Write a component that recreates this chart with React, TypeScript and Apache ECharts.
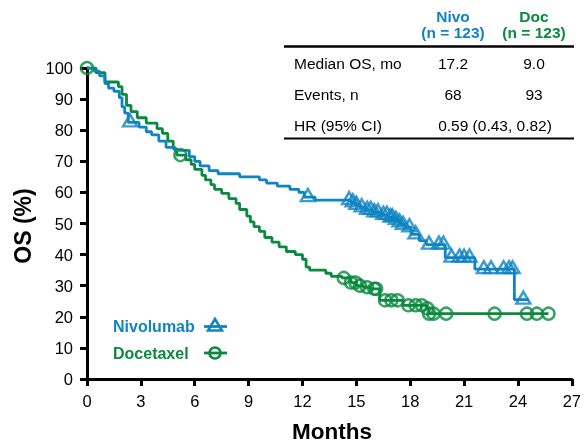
import React, { useEffect, useRef } from "react";
import * as echarts from "echarts";

const BLUE = "#0F84C2";
const GREEN = "#0A8A3E";
const FONT = '"Liberation Sans", Arial, Helvetica, sans-serif';

const xTicks = { min: 0, max: 27, interval: 3 };
const yTicks = { min: 0, max: 100, interval: 10 };

// Kaplan-Meier steps [month, OS %]
const nivoSteps: [number, number][] = [
  [0, 100], [0.4, 99], [0.7, 97.5], [1.0, 95], [1.2, 93.5], [1.5, 92.5], [1.8, 90.5],
  [1.95, 87.5], [2.1, 85.5], [2.3, 82.5], [2.9, 81], [3.3, 79.5], [3.6, 78.5], [4.0, 76.5],
  [4.4, 74.5], [4.9, 73.5], [5.7, 71.5], [6.0, 70], [6.3, 68.5], [6.8, 67], [7.3, 66],
  [8.5, 65], [9.6, 64], [10.0, 63], [10.6, 62], [11.3, 61], [11.8, 60], [12.1, 58.5],
  [12.7, 57.5], [14.7, 56.8], [14.9, 56], [15.2, 55.2], [15.5, 54.4], [15.9, 53.6],
  [16.4, 52.8], [16.8, 52], [17.1, 51.2], [17.35, 50.4], [17.5, 49.6], [17.75, 48.8],
  [18.05, 46.5], [18.5, 44.5], [18.9, 43.2], [19.95, 39], [21.6, 35.3], [23.8, 25.5],
  [24.6, 25.5],
];
const nivoCensor: [number, number][] = [
  [2.4, 82.5], [12.3, 58.5], [14.6, 57.5], [14.8, 56.8], [15.0, 56], [15.3, 55.2],
  [15.6, 54.4], [15.8, 54.4], [16.0, 53.6], [16.2, 53.6], [16.5, 52.8], [16.7, 52.8],
  [16.9, 52], [17.0, 52], [17.2, 51.2], [17.4, 50.4], [17.6, 49.6], [17.95, 48.8],
  [18.3, 46.5], [19.05, 43.2], [19.6, 43.2], [19.85, 43.2], [20.3, 39], [20.75, 39],
  [21.0, 39], [21.3, 39], [22.1, 35.3], [22.5, 35.3], [23.2, 35.3], [23.5, 35.3],
  [23.7, 35.3], [24.3, 25.5],
];
const docSteps: [number, number][] = [
  [0, 100], [0.5, 98.5], [1.0, 95.5], [1.75, 94], [1.95, 91.5], [2.2, 88], [2.45, 86],
  [2.8, 84], [3.3, 82.3], [3.9, 80.5], [4.2, 79], [4.5, 76.5], [4.8, 74], [5.0, 72],
  [5.5, 70.5], [5.8, 69], [6.0, 67.4], [6.4, 65.5], [6.6, 64], [6.9, 62.5], [7.1, 61],
  [7.5, 59.7], [7.9, 58], [8.3, 56.5], [8.5, 54.5], [8.9, 52.4], [9.1, 50.5], [9.3, 49],
  [9.6, 47.5], [9.9, 45.5], [10.3, 44], [10.7, 42.5], [11.1, 41], [11.6, 40], [12.0, 38.5],
  [12.2, 36], [12.4, 35], [13.3, 34], [13.6, 33], [14.2, 32.5], [14.7, 31], [15.0, 30],
  [15.4, 29.5], [15.8, 29], [16.3, 25.3], [17.6, 23.7], [18.9, 22.7], [19.05, 21],
  [25.7, 21],
];
const docCensor: [number, number][] = [
  [0, 100], [5.2, 72], [14.3, 32.5], [14.7, 31], [14.95, 31], [15.2, 30], [15.6, 29.5],
  [16.0, 29], [16.1, 29], [16.6, 25.3], [16.95, 25.3], [17.3, 25.3], [17.9, 23.7],
  [18.3, 23.7], [18.65, 23.7], [18.95, 22.7], [19.05, 21], [19.3, 21], [20.0, 21],
  [22.7, 21], [24.5, 21], [25.05, 21], [25.7, 21],
];

const tableHeaders = [
  { name: "Nivo", n: "(n = 123)", color: BLUE },
  { name: "Doc", n: "(n = 123)", color: GREEN },
];
const tableRows = [
  { label: "Median OS, mo", nivo: "17.2", doc: "9.0" },
  { label: "Events, n", nivo: "68", doc: "93" },
];
const hrRow = { label: "HR (95% CI)", value: "0.59 (0.43, 0.82)" };
const legendItems = [
  { name: "Nivolumab", color: BLUE, symbol: "triangle" },
  { name: "Docetaxel", color: GREEN, symbol: "circle" },
];

function txt(text: string, x: number, y: number, opts: any = {}) {
  const align = opts.align || "left";
  return {
    type: "text",
    x,
    y,
    rotation: opts.rotation || 0,
    silent: true,
    style: {
      text,
      fill: opts.fill || "#000",
      font: `${opts.weight || "normal"} ${opts.size || 15.5}px ${FONT}`,
      align,
      textAlign: align,
      verticalAlign: "middle",
      textVerticalAlign: "middle",
    },
  };
}

export default function App() {
  const ref = useRef<HTMLDivElement>(null);
  useEffect(() => {
    if (!ref.current) return;
    const chart = echarts.init(ref.current, null, { renderer: "svg" });

    const colX = [453, 534];
    const graphics: any[] = [];
    tableHeaders.forEach((h, i) => {
      graphics.push(txt(h.name, colX[i], 16, { align: "center", weight: "bold", fill: h.color }));
      graphics.push(txt(h.n, colX[i], 32, { align: "center", weight: "bold", fill: h.color }));
    });
    graphics.push({ type: "line", silent: true, shape: { x1: 284, y1: 46.5, x2: 574, y2: 46.5 }, style: { stroke: "#000", lineWidth: 2.5 } });
    tableRows.forEach((r, i) => {
      const y = 63 + i * 31;
      graphics.push(txt(r.label, 294, y));
      graphics.push(txt(r.nivo, colX[0], y, { align: "center" }));
      graphics.push(txt(r.doc, colX[1], y, { align: "center" }));
    });
    graphics.push(txt(hrRow.label, 294, 125));
    graphics.push(txt(hrRow.value, 495, 125, { align: "center" }));
    graphics.push({ type: "line", silent: true, shape: { x1: 284, y1: 138.5, x2: 574, y2: 138.5 }, style: { stroke: "#000", lineWidth: 1.8 } });

    legendItems.forEach((l, i) => {
      const y = 326.5 + i * 26.5;
      graphics.push(txt(l.name, 113, y, { weight: "bold", size: 16, fill: l.color }));
      graphics.push({ type: "line", silent: true, shape: { x1: 204, y1: y, x2: 227, y2: y }, style: { stroke: l.color, lineWidth: 2.8 } });
      if (l.symbol === "triangle") {
        graphics.push({ type: "polygon", silent: true, shape: { points: [[215, y - 7.5], [208, y + 4], [222, y + 4]] }, style: { stroke: l.color, fill: "none", lineWidth: 2.5 } });
      } else {
        graphics.push({ type: "circle", silent: true, shape: { cx: 215, cy: y, r: 5.5 }, style: { stroke: l.color, fill: "none", lineWidth: 2.5 } });
      }
    });
    graphics.push(txt("OS (%)", 23, 226, { align: "center", weight: "bold", size: 23, rotation: Math.PI / 2 }));
    graphics.push(txt("Months", 332, 431, { align: "center", weight: "bold", size: 22.5 }));

    const axisCommon = {
      type: "value" as const,
      axisLine: { show: true, lineStyle: { color: "#000", width: 3 } },
      axisTick: { show: true, inside: false, length: 7, lineStyle: { color: "#000", width: 3 } },
      splitLine: { show: false },
      axisLabel: { color: "#000", fontSize: 16.5, fontFamily: FONT },
    };

    chart.setOption({
      animation: false,
      grid: { left: 87, right: 8, top: 68, bottom: 63, containLabel: false },
      xAxis: { ...axisCommon, ...xTicks, axisLabel: { ...axisCommon.axisLabel, margin: 13 } },
      yAxis: { ...axisCommon, ...yTicks, axisLabel: { ...axisCommon.axisLabel, margin: 14 } },
      series: [
        {
          type: "line", name: "Docetaxel", data: docSteps, step: "end", showSymbol: false, silent: true,
          lineStyle: { color: GREEN, width: 2.8 }, z: 2,
        },
        {
          type: "line", name: "Nivolumab", data: nivoSteps, step: "end", showSymbol: false, silent: true,
          lineStyle: { color: BLUE, width: 2.8 }, z: 3,
        },
        {
          type: "scatter", data: docCensor, symbol: "circle", symbolSize: 12, silent: true, z: 4,
          itemStyle: { color: "rgba(255,255,255,0)", borderColor: GREEN, borderWidth: 2.5 },
        },
        {
          type: "scatter", data: nivoCensor, symbol: "triangle", symbolSize: [14, 12], symbolOffset: [0, -2], silent: true, z: 5,
          itemStyle: { color: "rgba(255,255,255,0)", borderColor: BLUE, borderWidth: 2.5 },
        },
      ],
      graphic: { elements: graphics },
    });
    return () => chart.dispose();
  }, []);
  return <div ref={ref} style={{ position: "fixed", left: 0, top: 0, width: 584, height: 442 }} />;
}
